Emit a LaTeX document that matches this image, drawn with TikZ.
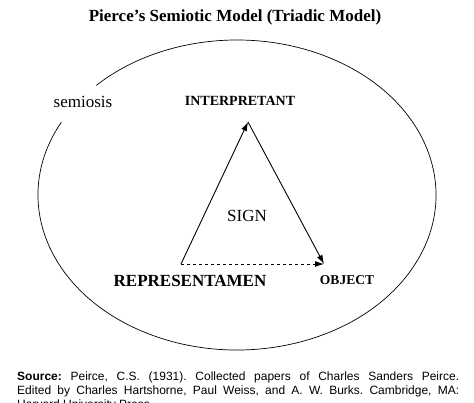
\documentclass[tikz,border=0pt]{standalone}
\usepackage{fontspec}
\setmainfont{Liberation Serif}
\newfontfamily\srcfont{Liberation Sans}
\usetikzlibrary{arrows.meta}

\begin{document}
\begin{tikzpicture}[x=1pt,y=1pt,
	corner/.style={inner sep=0pt,font=\bfseries\fontsize{14}{16}\selectfont},
	arr/.style={line width=0.9pt,-{Latex[length=9pt,width=6pt]}}]
\useasboundingbox (0,0) rectangle (474,403);
\node [font=\bfseries\fontsize{17}{20}\selectfont] (t) at (235,386) {Pierce’s Semiotic Model (Triadic Model)};
\draw [line width=0.7pt] (237,208) ++(152:199 and 155) arc[start angle=152,end angle=495,x radius=199,y radius=155];
\node [font=\fontsize{17}{20}\selectfont] (s) at (83,301) {semiosis};
\coordinate (r) at (181,139);
\coordinate (i) at (248,281);
\coordinate (o) at (324,139);
\node [corner] (ri) at (240,302) {INTERPRETANT};
\node [corner,font=\bfseries\fontsize{17}{20}\selectfont] (rr) at (190,122) {REPRESENTAMEN};
\node [corner,font=\bfseries\fontsize{13.5}{16}\selectfont] (ro) at (347,123) {OBJECT};
\node [font=\fontsize{17}{20}\selectfont] (sg) at (247,187) {SIGN};
\draw [arr] (r) -- (i);
\draw [arr] (i) -- (o);
\draw [arr,dashed] (r) -- (o);
\node [anchor=north west,inner sep=0pt,text width=442pt,align=justify,
	font=\srcfont\fontsize{12}{14}\selectfont\frenchspacing] (src) at (17,31)
	{\textbf{Source:} Peirce, C.S. (1931). Collected papers of Charles Sanders Peirce.\linebreak
	Edited by Charles Hartshorne, Paul Weiss, and A. W. Burks. Cambridge, MA:\linebreak
	Harvard University Press.};
\end{tikzpicture}
\end{document}
